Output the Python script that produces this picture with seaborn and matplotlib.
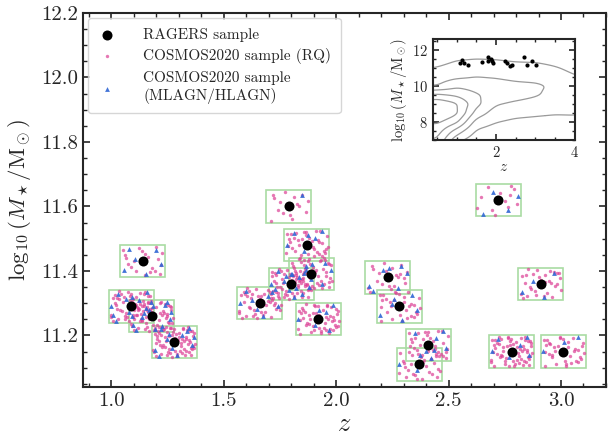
import numpy as np
import pandas as pd
import matplotlib
matplotlib.use("Agg")
import matplotlib.pyplot as plt
from matplotlib.patches import Rectangle
from matplotlib.ticker import MultipleLocator, FormatStrFormatter
import seaborn as sns

# ---------------- data ----------------
# RAGERS sample (redshift, log stellar mass)
rag_z = [1.14, 1.09, 1.18, 1.28, 1.79, 1.87, 1.89, 1.80, 1.66, 1.92,
         2.23, 2.28, 2.41, 2.37, 2.72, 2.91, 2.78, 3.01]
rag_m = [11.43, 11.29, 11.26, 11.18, 11.60, 11.48, 11.39, 11.36, 11.30, 11.25,
         11.38, 11.29, 11.17, 11.11, 11.62, 11.36, 11.15, 11.15]
# number of COSMOS2020 matches shown per RAGERS galaxy
n_rq = [20, 55, 55, 70, 15, 40, 45, 55, 45, 50, 20, 30, 30, 30, 12, 30, 60, 35]
n_agn = [6, 12, 12, 12, 1, 6, 8, 14, 8, 6, 7, 6, 6, 4, 4, 4, 6, 3]
# relative positions of the matched COSMOS2020 galaxies inside each box
off_u = [-0.82, 0.35, -0.15, 0.71, -0.55, 0.12, 0.93, -0.38, 0.58, -0.91,
         0.24, -0.67, 0.81, -0.05, 0.46, -0.78, 0.63, -0.29, 0.09, 0.88,
         -0.49, 0.31, -0.97, 0.54, -0.12, 0.76, -0.63, 0.18, -0.35, 0.95,
         -0.72, 0.41, -0.21, 0.67, -0.88, 0.03, 0.52, -0.44, 0.85, -0.58,
         0.27, -0.08, 0.74, -0.94, 0.39, -0.26, 0.61, -0.69, 0.14, 0.90,
         -0.51, 0.22, -0.84, 0.48, -0.17, 0.79, -0.41, 0.06, -0.75, 0.57,
         -0.32, 0.98, -0.60, 0.33, -0.02, 0.69, -0.86, 0.44, -0.23, 0.83]
off_v = [0.41, -0.73, 0.88, 0.12, -0.35, -0.92, 0.57, 0.03, -0.61, 0.76,
         0.29, -0.18, -0.85, 0.66, -0.47, 0.21, 0.94, -0.64, 0.49, -0.27,
         0.82, -0.09, -0.53, 0.35, -0.96, 0.71, -0.81, 0.15, 0.63, -0.42,
         0.08, 0.86, -0.71, -0.14, 0.52, 0.26, -0.88, -0.31, 0.69, 0.98,
         -0.57, 0.44, -0.02, -0.66, 0.17, -0.45, 0.78, 0.58, -0.79, 0.37,
         -0.22, 0.61, -0.94, 0.05, 0.93, -0.38, 0.31, -0.59, 0.73, 0.19,
         -0.84, -0.11, 0.47, -0.26, 0.84, -0.69, -0.05, 0.91, 0.39, -0.48]
agn_u = [-0.88, 0.62, -0.35, 0.15, 0.84, -0.62, 0.38, -0.12, 0.71, -0.93,
         0.05, 0.49, -0.71, 0.92, -0.24]
agn_v = [-0.55, 0.72, 0.18, -0.86, -0.21, 0.81, 0.45, -0.38, 0.93, 0.02,
         0.64, -0.67, -0.92, 0.29, 0.51]
box_dz = 0.1
box_dm = 0.05

# inset: COSMOS2020 density grid (z columns, log M rows)
grid_z = [0.0, 0.5, 1.0, 1.5, 2.0, 2.5, 3.0, 3.5, 4.0, 4.5]
grid_m = [6.5, 7.0, 7.5, 8.0, 8.5, 9.0, 9.5, 10.0, 10.5, 11.0, 11.5, 12.0, 12.5, 13.0]
dens = [
    [3.0, 3.5, 0.6, 0.0, 0.0, 0.0, 0.0, 0.0, 0.0, 0.0],
    [3.6, 4.0, 1.3, 0.4, 0.1, 0.0, 0.0, 0.0, 0.0, 0.0],
    [4.2, 4.5, 2.6, 0.9, 0.5, 0.3, 0.2, 0.1, 0.1, 0.0],
    [4.8, 5.2, 4.2, 1.6, 1.05, 0.8, 0.7, 0.6, 0.7, 0.5],
    [5.6, 6.2, 5.2, 2.6, 1.5, 1.3, 1.2, 1.1, 1.1, 0.9],
    [5.4, 5.9, 5.1, 3.3, 2.1, 1.8, 1.6, 1.4, 1.3, 1.1],
    [3.9, 4.2, 3.8, 3.1, 2.6, 2.4, 2.1, 1.7, 1.4, 1.2],
    [1.9, 2.0, 2.8, 2.6, 2.5, 2.3, 2.2, 1.8, 1.3, 1.1],
    [1.4, 1.5, 1.8, 2.0, 1.9, 1.7, 1.6, 1.5, 1.1, 0.9],
    [0.9, 1.05, 1.4, 1.5, 1.5, 1.4, 1.45, 1.1, 0.7, 0.5],
    [0.4, 0.5, 0.9, 1.0, 0.95, 0.8, 0.7, 0.5, 0.3, 0.2],
    [0.1, 0.2, 0.3, 0.4, 0.4, 0.3, 0.2, 0.1, 0.0, 0.0],
    [0.0, 0.0, 0.0, 0.0, 0.0, 0.0, 0.0, 0.0, 0.0, 0.0],
    [0.0, 0.0, 0.0, 0.0, 0.0, 0.0, 0.0, 0.0, 0.0, 0.0],
]
dens_levels = [1, 2, 3, 4, 5]

# ---------------- build tables ----------------
rq_rows, agn_rows = [], []
N = min(len(off_u), len(off_v))
for i, (z0, m0) in enumerate(zip(rag_z, rag_m)):
    start = (i * 11) % N
    for k in range(n_rq[i]):
        j = (start + k) % N
        rq_rows.append((z0 + off_u[j] * box_dz * 0.95, m0 + off_v[j] * box_dm * 0.95))
    sa = (i * 4) % len(agn_u)
    for k in range(n_agn[i]):
        j = (sa + k) % len(agn_u)
        agn_rows.append((z0 + agn_u[j] * box_dz * 0.95, m0 + agn_v[j] * box_dm * 0.95))
rq = pd.DataFrame(rq_rows, columns=["z", "m"])
agn = pd.DataFrame(agn_rows, columns=["z", "m"])
rag = pd.DataFrame({"z": rag_z, "m": rag_m})

# smoother rendering of the density grid (bilinear resampling of typed grid)
gz = np.array(grid_z)
gm = np.array(grid_m)
D = np.array(dens)
fz = np.linspace(gz[0], gz[-1], 91)
fm = np.linspace(gm[0], gm[-1], 131)
tmp = np.array([np.interp(fz, gz, row) for row in D])
Df = np.array([np.interp(fm, gm, col) for col in tmp.T]).T
kern = np.array([1, 2, 3, 4, 3, 2, 1], float)
kern /= kern.sum()
Df = np.apply_along_axis(lambda r: np.convolve(np.pad(r, 3, mode="edge"), kern, mode="valid"), 1, Df)
Df = np.apply_along_axis(lambda c: np.convolve(np.pad(c, 3, mode="edge"), kern, mode="valid"), 0, Df)

# ---------------- style ----------------
sns.set_style("ticks")
plt.rcParams.update({
    "font.family": ["cmr10", "DejaVu Serif"],
    "mathtext.fontset": "cm",
    "axes.unicode_minus": False,
    "axes.formatter.use_mathtext": True,
    "axes.linewidth": 1.5,
    "xtick.direction": "in", "ytick.direction": "in",
    "xtick.top": True, "ytick.right": True,
    "xtick.major.size": 5, "ytick.major.size": 5,
    "xtick.minor.size": 2.8, "ytick.minor.size": 2.8,
    "xtick.major.width": 1.2, "ytick.major.width": 1.2,
    "xtick.minor.width": 1.0, "ytick.minor.width": 1.0,
})

fig = plt.figure(figsize=(6.08, 4.41), dpi=100)
ax = fig.add_axes([0.1365, 0.1224, 0.8602, 0.8481])

pink = "#dc3f95"
blue = "#3066d4"
green = "#a9dca3"

for z0, m0 in zip(rag_z, rag_m):
    ax.add_patch(Rectangle((z0 - box_dz, m0 - box_dm), 2 * box_dz, 2 * box_dm,
                           fill=False, edgecolor=green, lw=1.2, zorder=1))

sns.scatterplot(data=rq, x="z", y="m", ax=ax, color=pink, s=6, alpha=0.7,
                linewidth=0, marker="o", zorder=2,
                label="COSMOS2020 sample (RQ)")
sns.scatterplot(data=agn, x="z", y="m", ax=ax, color=blue, s=12, alpha=0.9,
                linewidth=0, marker="^", zorder=3,
                label="COSMOS2020 sample\n(MLAGN/HLAGN)")
sns.scatterplot(data=rag, x="z", y="m", ax=ax, color="black", s=52,
                linewidth=0, marker="o", zorder=4, label="RAGERS sample")

ax.set_xlim(0.875, 3.2)
ax.set_ylim(11.04, 12.2)
ax.xaxis.set_major_locator(MultipleLocator(0.5))
ax.xaxis.set_minor_locator(MultipleLocator(0.1))
ax.yaxis.set_major_locator(MultipleLocator(0.2))
ax.yaxis.set_minor_locator(MultipleLocator(0.05))
ax.xaxis.set_major_formatter(FormatStrFormatter("%.1f"))
ax.yaxis.set_major_formatter(FormatStrFormatter("%.1f"))
ax.tick_params(which="both", top=True, right=True, labelsize=15)
ax.set_xlabel(r"$z$", fontsize=19, labelpad=2)
ax.set_ylabel(r"$\log_{10}(M_\star/\mathrm{M}_\odot)$", fontsize=16.5, labelpad=6)

h, l = ax.get_legend_handles_labels()
order = [l.index("RAGERS sample"), l.index("COSMOS2020 sample (RQ)"),
         l.index("COSMOS2020 sample\n(MLAGN/HLAGN)")]
leg = ax.legend([h[i] for i in order], [l[i] for i in order], loc="upper left",
                fontsize=11, frameon=True, fancybox=True, edgecolor="#cccccc",
                handlelength=1.2, handletextpad=1.8, borderpad=0.6,
                labelspacing=0.45, borderaxespad=0.35)

# inset
axi = fig.add_axes([0.712, 0.6825, 0.233, 0.2290])
axi.contour(fz, fm, Df, levels=dens_levels, colors="#9a9a9a", linewidths=0.9)
sns.scatterplot(data=rag, x="z", y="m", ax=axi, color="black", s=9,
                linewidth=0, zorder=3, legend=False)
axi.set_xlim(0.4, 4.0)
axi.set_ylim(7.0, 12.6)
axi.xaxis.set_major_locator(MultipleLocator(2))
axi.xaxis.set_minor_locator(MultipleLocator(0.5))
axi.yaxis.set_major_locator(MultipleLocator(2))
axi.yaxis.set_minor_locator(MultipleLocator(0.5))
axi.tick_params(which="both", top=True, right=True, labelsize=10.5)
axi.tick_params(which="major", length=4)
axi.tick_params(which="minor", length=2.2)
for s in axi.spines.values():
    s.set_linewidth(1.5)
axi.set_xlabel(r"$z$", fontsize=11, labelpad=0)
axi.set_ylabel(r"$\log_{10}(M_\star/\mathrm{M}_\odot)$", fontsize=10.5, labelpad=2)

fig.savefig("out.png", dpi=100)
